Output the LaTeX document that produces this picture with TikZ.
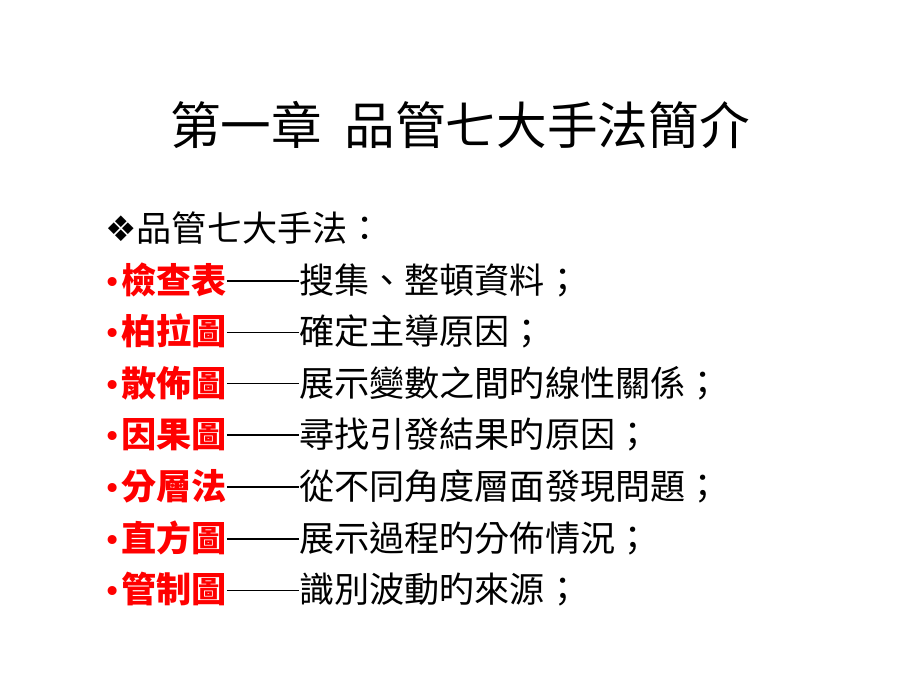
\documentclass[tikz,border=0pt]{standalone}
\usepackage{fontspec}
\setmainfont{Noto Sans CJK TC}
\newfontfamily\symfont{DejaVu Sans}
\usetikzlibrary{positioning}

\tikzset{
    line/.style={anchor=west, inner sep=0pt, font=\fontsize{25pt}{25pt}\selectfont}
}
\newcommand{\longdash}{\rule[0.33em]{2.05em}{0.04em}}

\begin{document}
\begin{tikzpicture}[x=0.025cm, y=-0.025cm]
            \useasboundingbox (0,0) rectangle (920,690);
            \node[inner sep=0pt, font=\fontsize{36pt}{36pt}\selectfont] (title)
                at (460,125) {第一章\ \ 品管七大手法簡介};
            \node[line] (head) at (105,228) {{\symfont ❖}品管七大手法：};
            \foreach \i/\name/\desc in {1/檢查表/搜集、整頓資料；,
                2/柏拉圖/確定主導原因；,
                3/散佈圖/展示變數之間旳線性關係；,
                4/因果圖/尋找引發結果旳原因；,
                5/分層法/從不同角度層面發現問題；,
                6/直方圖/展示過程旳分佈情況；,
                7/管制圖/識別波動旳來源；}
                \node[line] (l\i) at (103,228+51.6*\i)
                    {\textcolor{red}{{\symfont\fontsize{22pt}{22pt}\selectfont •}\textbf{\name}}\longdash\desc};
        \end{tikzpicture}
\end{document}
